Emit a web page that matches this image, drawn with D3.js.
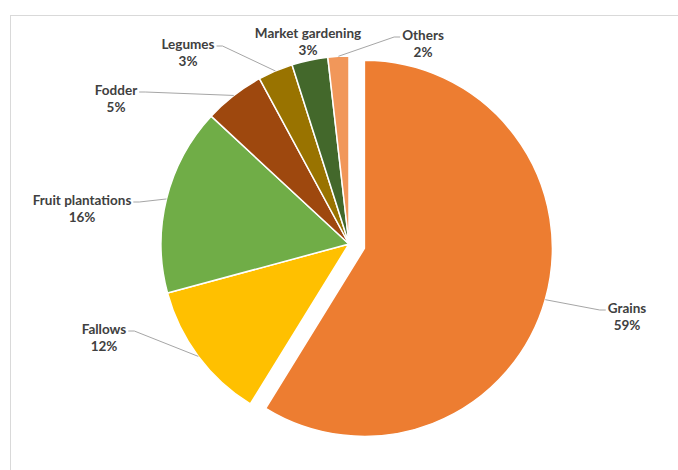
<!DOCTYPE html>
<html>
<head>
<meta charset="utf-8">
<script src="https://cdn.jsdelivr.net/npm/d3@7"></script>
<style>
  body { margin: 0; background: #fff; }
  svg { display: block; }
</style>
</head>
<body>
<div id="chart"></div>
<script>
// Land use shares
const categories = ['Grains', 'Fallows', 'Fruit plantations', 'Fodder', 'Legumes', 'Market gardening', 'Others'];
const values = [58.8, 12.0, 16.1, 5.2, 3.0, 3.1, 1.8];
const colors = ['#ED7D31', '#FFC000', '#70AD47', '#9E480E', '#997300', '#43682B', '#F1975A'];
const exploded = ['Grains'];

// Label placement (center of the two-line label block)
const labelPos = {
    'Grains': [627, 316],
    'Fallows': [104, 337],
    'Fruit plantations': [82, 208],
    'Fodder': [116, 98],
    'Legumes': [188, 52],
    'Market gardening': [308, 41],
    'Others': [423, 43]
};

const width = 678, height = 470;
const cx = 349, cy = 244, radius = 188, explodeDist = 16;

const svg = d3.select('#chart').append('svg')
    .attr('width', width)
    .attr('height', height);

// Chart area frame
svg.append('rect')
    .attr('x', 10.5).attr('y', 15.5)
    .attr('width', 720).attr('height', 520)
    .attr('fill', 'none')
    .attr('stroke', '#d9d9d9')
    .attr('stroke-width', 1);

const data = categories.map((c, i) => ({ name: c, value: values[i], color: colors[i] }));
const total = d3.sum(values);

const pie = d3.pie().sort(null).value(d => d.value);
const arcs = pie(data);

const arc = d3.arc().innerRadius(0).outerRadius(radius);

function offset(d) {
    if (!exploded.includes(d.data.name)) return [0, 0];
    const a = (d.startAngle + d.endAngle) / 2;
    return [Math.sin(a) * explodeDist, -Math.cos(a) * explodeDist];
}

const g = svg.append('g').attr('transform', `translate(${cx},${cy})`);

g.selectAll('path.slice')
    .data(arcs)
    .join('path')
    .attr('class', 'slice')
    .attr('d', arc)
    .attr('transform', d => `translate(${offset(d)})`)
    .attr('fill', d => d.data.color)
    .attr('stroke', '#fff')
    .attr('stroke-width', 1.5)
    .attr('stroke-linejoin', 'round');

// Labels
const labels = svg.append('g')
    .attr('font-family', 'Lato, "Open Sans", sans-serif')
    .attr('font-weight', 700)
    .attr('font-size', '13.5px')
    .attr('fill', '#404040')
    .attr('text-anchor', 'middle');

const leaders = svg.append('g')
    .attr('fill', 'none')
    .attr('stroke', '#a6a6a6')
    .attr('stroke-width', 1);

arcs.forEach(d => {
    const [lx, ly] = labelPos[d.data.name];
    const pct = Math.round(d.data.value / total * 100) + '%';
    const t = labels.append('text').attr('x', lx).attr('y', ly - 3).text(d.data.name);
    labels.append('text').attr('x', lx).attr('y', ly + 14).text(pct);

    const halfW = t.node().getComputedTextLength() / 2;
    const a = (d.startAngle + d.endAngle) / 2;
    const [ox, oy] = offset(d);
    const px = cx + ox + Math.sin(a) * radius;
    const py = cy + oy - Math.cos(a) * radius;

    // skip leader when the label sits right above its slice
    if (px > lx - halfW && px < lx + halfW) return;

    const side = px > lx ? 1 : -1;
    const ex = lx + side * (halfW + 2);
    const ey = ly - 6;
    const stub = ex + side * 6;
    leaders.append('path')
        .attr('d', d3.line()([[px, py], [stub, ey], [ex, ey]]));
});
</script>
</body>
</html>
